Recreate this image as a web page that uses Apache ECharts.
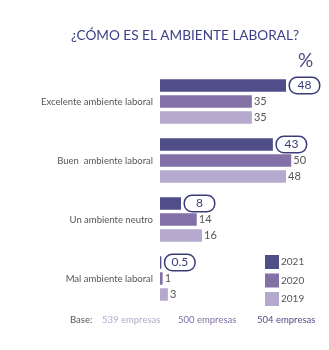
<!DOCTYPE html>
<html>
<head>
<meta charset="utf-8">
<script src="https://cdn.jsdelivr.net/npm/echarts@6/dist/echarts.min.js"></script>
<style>html,body{margin:0;padding:0;background:#fff;}#c{width:329px;height:350px;}</style>
</head>
<body>
<div id="c"></div>
<script>
const categories = ['Excelente ambiente laboral', 'Buen  ambiente laboral', 'Un ambiente neutro', 'Mal ambiente laboral'];
const years = ['2021', '2020', '2019'];
const values2021 = [48, 43, 8, 0.5];
const values2020 = [35, 50, 14, 1];
const values2019 = [35, 48, 16, 3];
const baseLabels = ['539 empresas', '500 empresas', '504 empresas'];
const colors = ['#504e88', '#8370a6', '#b5aacd'];
const FONT = 'Lato';

const chart = echarts.init(document.getElementById('c'));
const plainLabel = {
  show: true, position: 'right', distance: 2, color: '#555', fontSize: 11, fontFamily: FONT
};
const boxLabel = {
  show: true, position: 'right', distance: 4,
  backgroundColor: '#fff', borderColor: '#3b3b7a', borderWidth: 1.5, borderRadius: 7,
  padding: [1, 0],
  formatter: '{a|{c}}',
  rich: { a: { width: 29, align: 'center', fontSize: 12, lineHeight: 13, color: '#3b3b7a', fontFamily: FONT } }
};
const seriesData = [values2021, values2020, values2019];
chart.setOption({
  animation: false,
  textStyle: { fontFamily: FONT },
  title: {
    text: '¿CÓMO ES EL AMBIENTE LABORAL?', left: 180, top: 24, textAlign: 'center',
    textStyle: { fontSize: 13.6, fontWeight: 'normal', color: '#3a3f86', fontFamily: FONT }
  },
  legend: {
    data: years, orient: 'vertical', left: 260, top: 250, itemWidth: 14, itemHeight: 14, itemGap: 4.5,
    icon: 'rect', textStyle: { fontSize: 10, color: '#555', fontFamily: FONT, padding: [0, 0, 0, -3] }
  },
  grid: { left: 160, right: 11.5, top: 72, bottom: 42, containLabel: false },
  xAxis: { type: 'value', min: 0, max: 60, show: false },
  yAxis: {
    type: 'category', data: categories, inverse: true,
    axisLine: { show: false }, axisTick: { show: false },
    axisLabel: { fontSize: 9.5, color: '#555', margin: 7, fontFamily: FONT }
  },
  series: years.map((y, i) => ({
    name: y, type: 'bar', data: seriesData[i],
    barWidth: 12.5, barGap: '28%', barCategoryGap: '25%',
    itemStyle: { color: colors[i] },
    label: i === 0 ? boxLabel : plainLabel
  })),
  graphic: [
    { type: 'text', left: 298, top: 51, style: { text: '%', fontSize: 19, fill: '#4a4a7e', fontFamily: FONT } },
    { type: 'text', left: 70, top: 315, style: { text: 'Base:', fontSize: 9.5, fill: '#555', fontFamily: FONT } },
    { type: 'text', left: 102, top: 315, style: { text: baseLabels[0], fontSize: 9.5, fill: colors[2], fontFamily: FONT } },
    { type: 'text', left: 178, top: 315, style: { text: baseLabels[1], fontSize: 9.5, fill: colors[1], fontFamily: FONT } },
    { type: 'text', left: 257, top: 315, style: { text: baseLabels[2], fontSize: 9.5, fill: colors[0], fontFamily: FONT } }
  ]
});
</script>
</body>
</html>
